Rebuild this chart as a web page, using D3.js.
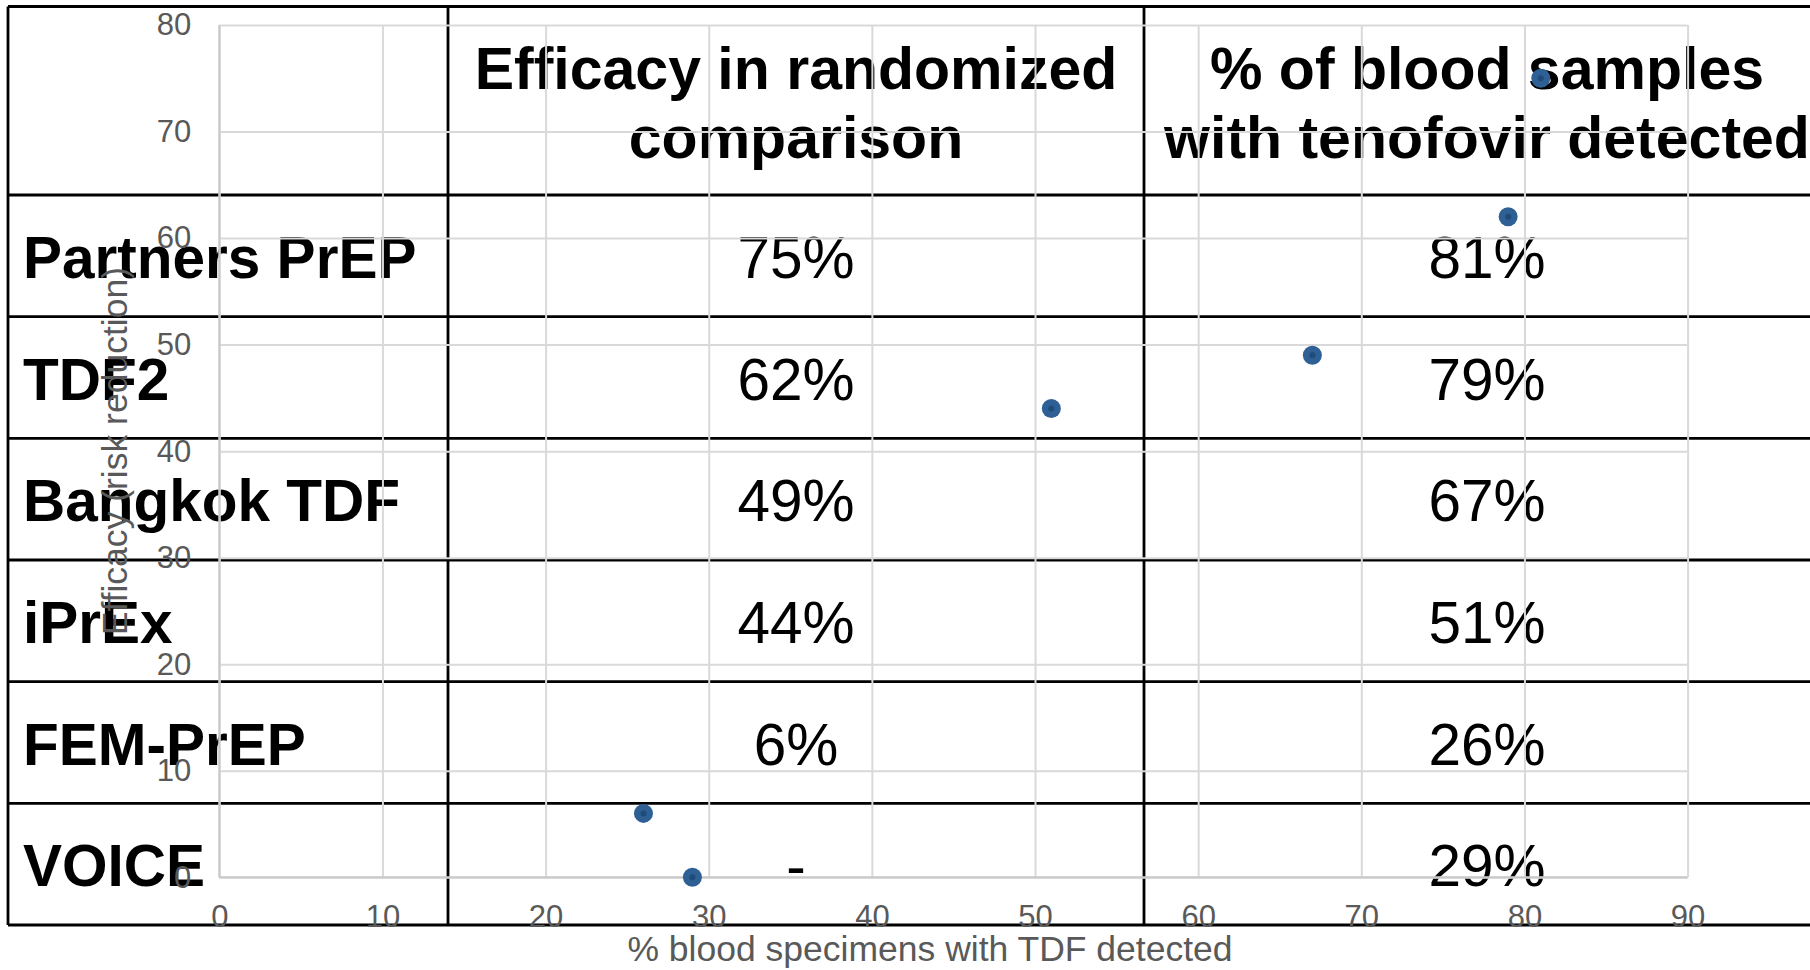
<!DOCTYPE html>
<html>
<head>
<meta charset="utf-8">
<script src="https://cdn.jsdelivr.net/npm/d3@7"></script>
<style>
  html, body { margin: 0; padding: 0; background: #ffffff; }
  svg { display: block; }
</style>
</head>
<body>
<script>
// ---- data ----
const trials = ["Partners PrEP", "TDF2", "Bangkok TDF", "iPrEx", "FEM-PrEP", "VOICE"];
const efficacyLabels = ["75%", "62%", "49%", "44%", "6%", "-"];
const detectedLabels = ["81%", "79%", "67%", "51%", "26%", "29%"];
const headerEfficacy = ["Efficacy in randomized", "comparison"];
const headerDetected = ["% of blood samples", "with tenofovir detected"];
const tdfDetected = [81, 79, 67, 51, 26, 29];
const efficacy = [75, 62, 49, 44, 6, 0];
const xTicks = [0, 10, 20, 30, 40, 50, 60, 70, 80, 90];
const yTicks = [0, 10, 20, 30, 40, 50, 60, 70, 80];
const xTitle = "% blood specimens with TDF detected";
const yTitle = "Efficacy (risk reduction)";

// ---- layout ----
const W = 1810, H = 970;
const svg = d3.select("body").append("svg").attr("width", W).attr("height", H);
svg.append("rect").attr("width", W).attr("height", H).attr("fill", "#fff");

const FONT = "'Liberation Sans', Arial, Helvetica, sans-serif";
const tableTop = 6.5, headerBottom = 195, tableBottom = 925;
const colEdges = [8, 448, 1144, 1830];

const rowScale = d3.scaleBand().domain(trials).range([headerBottom, tableBottom]);

// ---- table (drawn underneath) ----
const table = svg.append("g");
const lineStyle = sel => sel.attr("stroke", "#000").attr("stroke-width", 2.8);

const hLines = [tableTop, headerBottom].concat(trials.map(t => rowScale(t) + rowScale.bandwidth()));
table.selectAll("line.h").data(hLines).join("line")
  .attr("x1", colEdges[0]).attr("x2", colEdges[3])
  .attr("y1", d => d).attr("y2", d => d).call(lineStyle);
table.selectAll("line.v").data(colEdges).join("line")
  .attr("x1", d => d).attr("x2", d => d)
  .attr("y1", tableTop).attr("y2", tableBottom).call(lineStyle);

const colCenter = i => (colEdges[i] + colEdges[i + 1]) / 2;
const fs = 58.5;

[headerEfficacy, headerDetected].forEach((lines, ci) => {
  table.append("text")
    .attr("x", colCenter(ci + 1)).attr("text-anchor", "middle")
    .attr("font-family", FONT).attr("font-weight", "bold").attr("font-size", fs + 0.5)
    .attr("fill", "#000")
    .selectAll("tspan").data(lines).join("tspan")
    .attr("x", colCenter(ci + 1))
    .attr("y", (d, i) => tableTop + 82 + i * 69)
    .text(d => d);
});

const rowBase = t => rowScale(t) + rowScale.bandwidth() / 2 + 22;
table.selectAll("text.label").data(trials).join("text")
  .attr("x", 23).attr("y", d => rowBase(d))
  .attr("font-family", FONT).attr("font-weight", "bold").attr("font-size", fs)
  .attr("fill", "#000").text(d => d);
table.selectAll("text.eff").data(trials).join("text")
  .attr("x", colCenter(1)).attr("y", d => rowBase(d)).attr("text-anchor", "middle")
  .attr("font-family", FONT).attr("font-size", fs).attr("fill", "#000")
  .text((d, i) => efficacyLabels[i]);
table.selectAll("text.det").data(trials).join("text")
  .attr("x", colCenter(2)).attr("y", d => rowBase(d)).attr("text-anchor", "middle")
  .attr("font-family", FONT).attr("font-size", fs).attr("fill", "#000")
  .text((d, i) => detectedLabels[i]);

// ---- scatter chart (drawn on top) ----
const x = d3.scaleLinear().domain([0, 90]).range([219.3, 1687.6]);
const y = d3.scaleLinear().domain([0, 80]).range([877.3, 25]);
const chart = svg.append("g");

chart.append("g")
  .attr("transform", `translate(0,${y(0)})`)
  .call(d3.axisBottom(x).tickValues(xTicks).tickSize(-(y(0) - y(80))).tickFormat(""))
  .call(g => g.select(".domain").remove())
  .call(g => g.selectAll(".tick line").attr("stroke", "#d9d9d9").attr("stroke-width", 2));
chart.append("g")
  .attr("transform", `translate(${x(0)},0)`)
  .call(d3.axisLeft(y).tickValues(yTicks).tickSize(-(x(90) - x(0))).tickFormat(""))
  .call(g => g.select(".domain").remove())
  .call(g => g.selectAll(".tick line").attr("stroke", "#d9d9d9").attr("stroke-width", 2));
chart.append("line").attr("x1", x(0)).attr("x2", x(0)).attr("y1", y(0)).attr("y2", y(80))
  .attr("stroke", "#c8c8c8").attr("stroke-width", 2);
chart.append("line").attr("x1", x(0)).attr("x2", x(90)).attr("y1", y(0)).attr("y2", y(0))
  .attr("stroke", "#c8c8c8").attr("stroke-width", 2);

const tickFs = 31;
const xAxis = chart.append("g")
  .attr("transform", `translate(0,${y(0)})`)
  .call(d3.axisBottom(x).tickValues(xTicks).tickSize(0).tickPadding(0));
xAxis.select(".domain").remove();
xAxis.selectAll(".tick text")
  .attr("font-family", FONT).attr("font-size", tickFs).attr("fill", "#595959")
  .attr("dy", null).attr("y", 927 - y(0));

const yAxis = chart.append("g")
  .attr("transform", `translate(${x(0)},0)`)
  .call(d3.axisLeft(y).tickValues(yTicks).tickSize(0).tickPadding(28));
yAxis.select(".domain").remove();
yAxis.selectAll(".tick text")
  .attr("font-family", FONT).attr("font-size", tickFs).attr("fill", "#595959");

chart.append("text")
  .attr("x", 930).attr("y", 961).attr("text-anchor", "middle")
  .attr("font-family", FONT).attr("font-size", 35.5).attr("fill", "#595959")
  .text(xTitle);
chart.append("text")
  .attr("transform", `translate(127,${(y(0) + y(80)) / 2}) rotate(-90)`)
  .attr("text-anchor", "middle")
  .attr("font-family", FONT).attr("font-size", 35.5).attr("fill", "#595959")
  .text(yTitle);

const pts = tdfDetected.map((v, i) => ({ x: v, y: efficacy[i] }));
chart.selectAll("circle.pt").data(pts).join("circle")
  .attr("cx", d => x(d.x)).attr("cy", d => y(d.y)).attr("r", 9.5)
  .attr("fill", "#2e6096");
chart.selectAll("circle.ctr").data(pts).join("circle")
  .attr("cx", d => x(d.x)).attr("cy", d => y(d.y)).attr("r", 3)
  .attr("fill", "#1f4b78");
</script>
</body>
</html>
